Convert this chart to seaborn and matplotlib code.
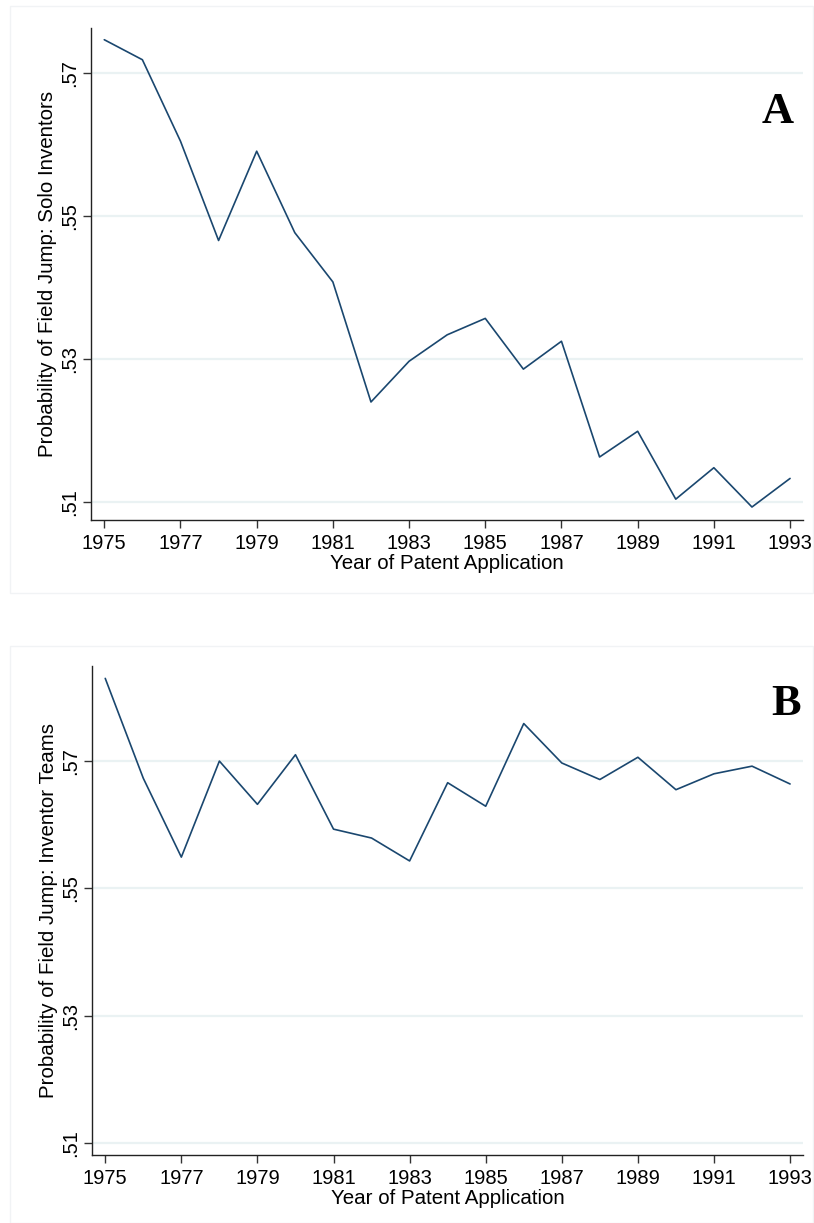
import matplotlib
matplotlib.use("Agg")
import matplotlib.pyplot as plt
from matplotlib.patches import Rectangle
import seaborn as sns
import pandas as pd

# ── Data ──────────────────────────────────────────────────────────────────────
years = list(range(1975, 1994))
solo_prob = [0.5747, 0.5719, 0.5605, 0.5466, 0.5591, 0.5477, 0.5408, 0.5240,
             0.5297, 0.5334, 0.5357, 0.5286, 0.5325, 0.5163, 0.5199, 0.5104,
             0.5148, 0.5093, 0.5133]
team_prob = [0.5830, 0.5673, 0.5549, 0.5700, 0.5632, 0.5710, 0.5593, 0.5579,
             0.5543, 0.5666, 0.5629, 0.5759, 0.5697, 0.5671, 0.5706, 0.5655,
             0.5680, 0.5692, 0.5664]
y_ticks = [0.51, 0.53, 0.55, 0.57]
y_tick_labels = [".51", ".53", ".55", ".57"]
x_ticks = list(range(1975, 1994, 2))

# ── Theme ─────────────────────────────────────────────────────────────────────
LINE = "#1a476f"
GRID = "#eaf2f3"
FRAME = "#f1f3f5"

sns.set_style("white")
plt.rcParams.update({
    "text.color": "black", "axes.labelcolor": "black",
    "xtick.color": "#333333", "ytick.color": "#333333",
    "xtick.labelcolor": "black", "ytick.labelcolor": "black",
})
plt.rcParams["font.family"] = ["Liberation Sans", "DejaVu Sans"]

fig = plt.figure(figsize=(8.14, 12.23), dpi=100)

panels = [
    dict(vals=solo_prob, label="Probability of Field Jump: Solo Inventors",
         rect=[0.1122, 0.5748, 0.8743, 0.4023], ylim=(0.50748, 0.57634),
         letter="A", lpos=(0.965, 0.829)),
    dict(vals=team_prob, label="Probability of Field Jump: Inventor Teams",
         rect=[0.1134, 0.0556, 0.8731, 0.3998], ylim=(0.50807, 0.58494),
         letter="B", lpos=(0.976, 0.922)),
]

# faint outer frames around each panel
fig.patches.append(Rectangle((10 / 814, 1 - 593 / 1223), 803 / 814, 587 / 1223,
                             transform=fig.transFigure, fill=False,
                             edgecolor=FRAME, linewidth=1.0))
fig.patches.append(Rectangle((10 / 814, 0.0), 803 / 814, 1 - 646 / 1223,
                             transform=fig.transFigure, fill=False,
                             edgecolor=FRAME, linewidth=1.0))

for p in panels:
    ax = fig.add_axes(p["rect"])
    df = pd.DataFrame({"year": years, "prob": p["vals"]})
    for yt in y_ticks:
        ax.axhline(yt, color=GRID, linewidth=1.6, zorder=0)
    sns.lineplot(data=df, x="year", y="prob", ax=ax, color=LINE, linewidth=1.2)

    ax.set_xlim(1974.66, 1993.34)
    ax.set_ylim(*p["ylim"])
    ax.set_xticks(x_ticks)
    ax.set_xticklabels([str(x) for x in x_ticks], fontsize=14.5)
    ax.set_yticks(y_ticks)
    ax.set_yticklabels(y_tick_labels, fontsize=14.5, rotation=90, va="center")
    ax.tick_params(axis="both", bottom=True, left=True, direction="out",
                   length=6, width=1.0)
    ax.tick_params(axis="x", pad=4)
    ax.tick_params(axis="y", pad=3)

    ax.set_xlabel("Year of Patent Application", fontsize=14.8, labelpad=1)
    ax.set_ylabel(p["label"], fontsize=14.8, labelpad=2)

    for side in ["top", "right"]:
        ax.spines[side].set_visible(False)
    for side in ["left", "bottom"]:
        ax.spines[side].set_color("#222222")
        ax.spines[side].set_linewidth(1.0)

    ax.text(p["lpos"][0], p["lpos"][1], p["letter"], transform=ax.transAxes,
            ha="center", va="center", fontsize=32, fontweight="bold",
            color="black", family=["Liberation Serif", "DejaVu Serif"])

plt.savefig("out.png", dpi=100, facecolor="white")
plt.close()
